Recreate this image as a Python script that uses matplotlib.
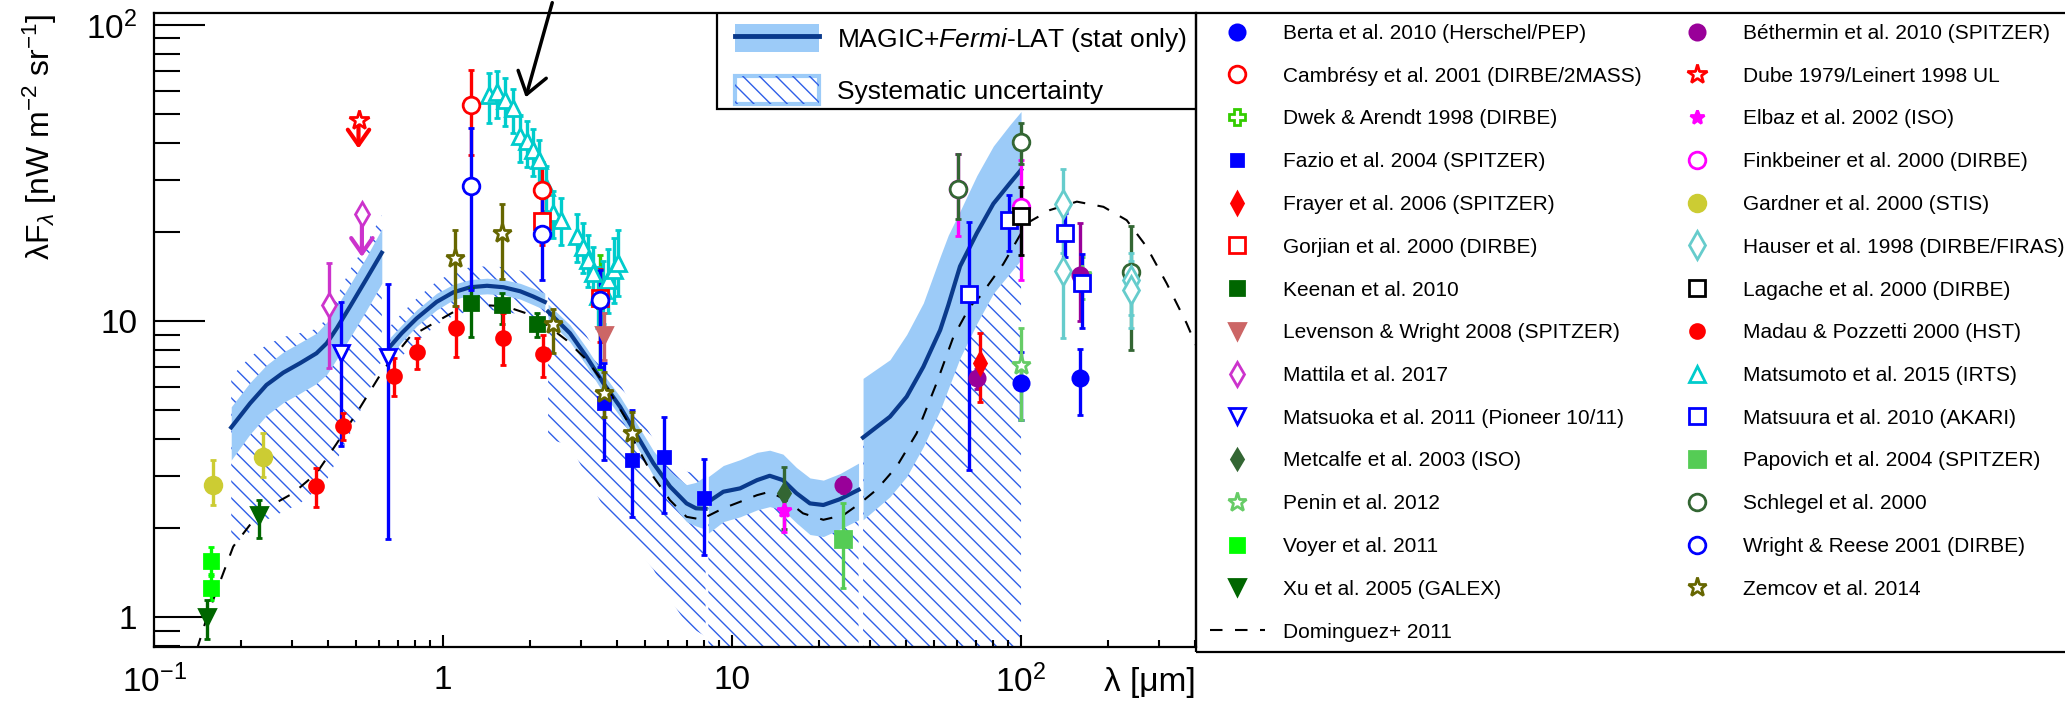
import numpy as np
import matplotlib
matplotlib.use("Agg")
import matplotlib.pyplot as plt
from matplotlib.lines import Line2D
from matplotlib.patches import Patch, Rectangle, FancyArrowPatch
from matplotlib.legend_handler import HandlerTuple
from matplotlib.ticker import FixedLocator, FixedFormatter, NullFormatter, LogLocator

plt.rcParams["font.family"] = ["Liberation Sans", "DejaVu Sans"]
plt.rcParams["mathtext.fontset"] = "custom"
plt.rcParams["mathtext.rm"] = "Liberation Sans"
plt.rcParams["mathtext.it"] = "Liberation Sans:italic"
plt.rcParams["mathtext.bf"] = "Liberation Sans:bold"
plt.rcParams["hatch.linewidth"] = 1.0

# ---- MAGIC+Fermi-LAT EBL reconstruction, 5 wavelength segments
magic_x = [
    [0.185, 0.215, 0.245, 0.28, 0.32, 0.365, 0.396, 0.429, 0.477, 0.544, 0.614],
    [0.656, 0.72, 0.81, 0.95, 1.086, 1.24, 1.42, 1.62, 1.85, 2.05, 2.25],
    [2.31, 2.75, 3.14, 3.59, 4.1, 4.56, 5.34, 6.1, 6.96, 7.5, 8.1],
    [8.28, 9.33, 10.66, 12.2, 13.5, 15.0, 16.7, 18.6, 20.7, 23.6, 27.4],
    [28.4, 35.2, 40.2, 45.9, 52.5, 56.0, 61.5, 70.3, 80.2, 91.5, 100.0],
]
magic_y = [
    [4.37, 5.27, 6.08, 6.69, 7.2, 7.78, 8.41, 9.45, 11.2, 13.9, 17.0],
    [8.2, 9.1, 10.2, 11.6, 12.5, 13.0, 13.15, 13.0, 12.6, 12.1, 11.6],
    [10.75, 9.09, 7.56, 6.16, 5.13, 4.3, 3.31, 2.76, 2.42, 2.33, 2.32],
    [2.45, 2.65, 2.72, 2.9, 3.0, 2.9, 2.62, 2.42, 2.39, 2.5, 2.69],
    [4.04, 4.75, 5.55, 7.0, 9.32, 11.3, 15.3, 19.8, 24.9, 29.2, 32.4],
]
stat_hi = [
    [5.13, 6.2, 7.1, 7.85, 8.45, 9.1, 9.9, 11.2, 13.3, 16.5, 20.5],
    [8.8, 9.7, 10.9, 12.4, 13.3, 13.8, 13.95, 13.8, 13.4, 12.9, 12.4],
    [11.4, 9.7, 8.1, 6.6, 5.55, 4.7, 3.65, 3.1, 2.8, 2.85, 3.0],
    [2.98, 3.25, 3.4, 3.6, 3.66, 3.55, 3.2, 2.95, 2.9, 3.05, 3.31],
    [6.4, 7.4, 9.0, 11.5, 16.5, 19.5, 23.5, 31.0, 39.0, 46.0, 51.0],
]
stat_lo = [
    [3.39, 4.15, 4.8, 5.3, 5.7, 6.15, 6.6, 7.45, 8.8, 10.9, 13.4],
    [7.6, 8.5, 9.6, 10.9, 11.8, 12.25, 12.35, 12.25, 11.85, 11.35, 10.9],
    [10.1, 8.5, 7.05, 5.7, 4.75, 3.95, 3.0, 2.45, 2.1, 2.03, 1.98],
    [1.92, 2.1, 2.18, 2.3, 2.36, 2.3, 2.08, 1.9, 1.87, 1.98, 2.13],
    [2.13, 2.55, 2.98, 3.76, 5.0, 5.9, 7.5, 9.8, 12.4, 14.5, 16.1],
]
sys_hi = [
    [6.48, 7.56, 8.3, 8.83, 9.1, 9.4, 10.2, 12.1, 14.9, 18.3, 22.8],
    [9.6, 10.6, 11.9, 13.6, 14.6, 15.2, 15.3, 15.2, 14.8, 14.2, 13.6],
    [12.5, 10.6, 8.9, 7.2, 6.1, 5.1, 4.0, 3.4, 3.1, 3.05, 3.1],
    [2.45, 2.65, 2.72, 2.9, 3.0, 2.9, 2.62, 2.42, 2.39, 2.5, 2.69],
    [4.04, 4.75, 5.55, 7.0, 9.32, 11.3, 15.3, 19.8, 24.9, 29.2, 32.4],
]
sys_lo = [
    [1.73, 1.94, 2.13, 2.27, 2.42, 2.69, 2.9, 3.39, 4.17, 5.55, 7.39],
    [6.9, 7.6, 8.5, 9.7, 10.4, 10.8, 10.9, 10.8, 10.5, 10.1, 9.7],
    [4.0, 3.8, 3.0, 2.35, 2.05, 1.75, 1.45, 1.15, 0.95, 0.9, 0.86],
    [0.7] * 11,
    [0.7] * 11,
]

# ---- Dominguez+ 2011 model
dom_x = [0.1406, 0.154, 0.188, 0.233, 0.303, 0.365, 0.429, 0.502, 0.621, 0.769, 0.976,
         1.175, 1.42, 1.65, 1.95, 2.28, 2.68, 3.14, 3.68, 4.32, 4.56, 5.34, 6.1, 6.96,
         7.94, 8.14, 9.33, 10.66, 12.2, 13.5, 15.4, 17.6, 20.7, 24.3, 27.7, 31.6, 37.1,
         43.5, 51.0, 58.3, 66.6, 72.1, 86.9, 104.8, 125.9, 156.0, 192.8, 232.0, 272.0,
         319.0, 374.0, 405.0]
dom_y = [0.774, 1.03, 1.73, 2.27, 2.62, 3.06, 3.86, 4.88, 6.83, 8.85, 10.1,
         11.2, 11.3, 11.2, 10.6, 9.7, 8.6, 7.39, 6.0, 4.63, 3.96, 2.98, 2.48, 2.18,
         2.13, 2.18, 2.33, 2.45, 2.58, 2.65, 2.48, 2.24, 2.13, 2.21, 2.42, 2.69, 3.22,
         4.17, 6.16, 8.83, 11.2, 12.1, 15.6, 21.4, 23.7, 25.3, 24.3, 21.9, 17.8,
         13.4, 9.82, 8.19]

# ---- measurements: x [um], y, lower and upper error-bar ends
berta_x, berta_y, berta_lo, berta_hi = [100, 160], [6.19, 6.4], [4.63, 4.82], [7.87, 8.02]
camb_x, camb_y, camb_lo, camb_hi = [1.25, 2.2], [53.7, 27.6], [36.4, 23.2], [70.5, 34.5]
dwek_x, dwek_y, dwek_lo, dwek_hi = [3.5], [11.8], [6.9], [16.7]
fazio_x, fazio_y = [3.6, 4.5, 5.8, 8.0], [5.27, 3.39, 3.48, 2.52]
fazio_lo, fazio_hi = [3.39, 2.18, 2.24, 1.62], [7.2, 5.0, 4.75, 3.41]
frayer_x, frayer_y, frayer_lo, frayer_hi = [72], [7.2], [5.34], [9.09]
gorj_x, gorj_y, gorj_lo, gorj_hi = [2.2, 3.5], [21.7, 12.0], [18.0, 8.5], [26.0, 15.0]
keenan_x, keenan_y = [1.25, 1.6, 2.12], [11.5, 11.3, 9.77]
keenan_lo, keenan_hi = [8.83, 9.8, 8.83], [12.9, 12.4, 10.6]
leven_x, leven_y, leven_lo, leven_hi = [3.6], [8.97], [7.39], [10.6]
mattila_x, mattila_y, mattila_lo, mattila_hi = [0.404], [11.3], [6.93], [15.7]
mattila_ul_x, mattila_ul_y, mattila_ul_end = [0.524], [22.9], [16.1]
matsuoka_x, matsuoka_y = [0.443, 0.644], [7.78, 7.56]
matsuoka_lo, matsuoka_hi = [3.78, 1.83], [11.6, 13.3]
metc_x, metc_y, metc_lo, metc_hi = [15.1], [2.62], [1.99], [3.22]
penin_x, penin_y, penin_lo, penin_hi = [100, 162], [7.1, 14.3], [4.63, 11.9], [9.45, 16.5]
voyer_x, voyer_y, voyer_lo, voyer_hi = [0.158, 0.158], [1.55, 1.25], [1.4, 1.14], [1.73, 1.38]
xu_x, xu_y, xu_lo, xu_hi = [0.153, 0.231], [1.0, 2.21], [0.84, 1.85], [1.14, 2.48]
beth_x, beth_y = [24.3, 70.6, 160], [2.79, 6.4, 14.3]
beth_lo, beth_hi = [2.62, 5.9, 10.0], [2.98, 6.9, 21.4]
dube_x, dube_y, dube_end = [0.51], [47.6], [37.4]
elbaz_x, elbaz_y, elbaz_lo, elbaz_hi = [15.1], [2.3], [1.94], [2.69]
fink_x, fink_y, fink_lo, fink_hi = [60.6, 100], [28.0, 24.3], [19.3, 13.8], [36.6, 34.9]
gard_x, gard_y, gard_lo, gard_hi = [0.16, 0.238], [2.79, 3.48], [2.39, 2.98], [3.39, 4.19]
hauser_x, hauser_y = [140, 140, 240, 240], [24.9, 14.7, 13.8, 12.7]
hauser_lo, hauser_hi = [17.0, 8.74, 10.5, 9.5], [32.7, 19.0, 17.0, 16.0]
lag_x, lag_y, lag_lo, lag_hi = [100], [22.6], [16.7], [28.4]
madau_x = [0.363, 0.452, 0.678, 0.815, 1.11, 1.61, 2.22]
madau_y = [2.78, 4.42, 6.53, 7.84, 9.45, 8.78, 7.72]
madau_lo = [2.36, 3.96, 5.6, 6.88, 7.56, 7.1, 6.47]
madau_hi = [3.19, 4.89, 7.5, 8.75, 11.2, 10.6, 8.97]
matsumoto_x = [1.44, 1.54, 1.64, 1.74, 1.84, 1.95, 2.05, 2.15, 2.27, 2.41,
               2.57, 2.9, 3.06, 3.18, 3.31, 3.45, 3.59, 3.73, 3.89, 4.04]
matsumoto_y = [58.0, 59.5, 55.8, 52.3, 42.0, 40.4, 37.8, 35.0, 28.4, 23.1,
               21.9, 19.3, 17.8, 16.1, 14.5, 12.1, 12.7, 13.8, 14.9, 15.7]
matsumoto_lo = [46.5, 48.5, 45.5, 43.0, 34.5, 33.0, 31.0, 29.0, 23.5, 19.0,
                18.0, 15.8, 14.5, 13.0, 11.5, 9.5, 9.8, 10.6, 11.5, 12.1]
matsumoto_hi = [68.7, 70.0, 66.0, 61.0, 49.5, 47.5, 44.5, 41.0, 33.5, 27.5,
                26.0, 23.0, 21.5, 19.5, 17.8, 15.2, 16.0, 17.5, 19.0, 20.3]
matsuura_x, matsuura_y = [65.8, 91.2, 142, 162], [12.3, 21.9, 19.8, 13.4]
matsuura_lo, matsuura_hi = [3.14, 17.3, 16.5, 9.45], [21.6, 26.6, 23.1, 16.9]
papo_x, papo_y, papo_lo, papo_hi = [24.3], [1.83], [1.25], [2.42]
schl_x, schl_y = [60.6, 100, 240], [28.0, 40.1, 14.6]
schl_lo, schl_hi = [22.1, 34.0, 7.97], [36.6, 46.5, 20.9]
wright_x, wright_y = [1.25, 2.2, 3.5], [28.6, 19.6, 11.8]
wright_lo, wright_hi = [12.7, 13.8, 7.0], [44.8, 27.6, 14.9]
zem_x, zem_y = [1.1, 1.6, 2.4, 3.6, 4.5], [16.3, 19.9, 9.77, 5.7, 4.17]
zem_lo, zem_hi = [11.2, 13.9, 7.78, 4.75, 3.39], [20.3, 24.9, 11.0, 6.73, 4.94]

BAND = "#9ccbf8"
CURVE = "#0a3a8c"
HATCH = "#2f5fe8"

W, H = 2065, 706
fig = plt.figure(figsize=(W / 100, H / 100), dpi=100)
ax = fig.add_axes([154 / W, 1 - 647 / H, 1042 / W, 633.6 / H])
ax.set_xscale("log")
ax.set_yscale("log")

for i in range(len(magic_x)):
    ax.fill_between(magic_x[i], sys_lo[i], sys_hi[i], facecolor="none", edgecolor=HATCH,
                    hatch="\\\\", linewidth=0, zorder=1)
    ax.fill_between(magic_x[i], stat_lo[i], stat_hi[i], color=BAND, linewidth=0, zorder=2)
    ax.plot(magic_x[i], magic_y[i], color=CURVE, lw=3, zorder=3)

ax.plot(dom_x, dom_y, color="k", lw=1.5, ls=(0, (6, 6)), zorder=4)


def draw(x, y, lo, hi, marker, color, open_=False, ms=11, z=5):
    y = np.asarray(y, float)
    yerr = [y - np.asarray(lo), np.asarray(hi) - y]
    ax.errorbar(x, y, yerr=yerr, fmt=marker, color=color, mec=color,
                mfc="white" if open_ else color, mew=2, ms=ms, elinewidth=2.4,
                capsize=2.5, capthick=2.4, zorder=z)


def handle(marker, color, open_=False, ms=11):
    return Line2D([], [], ls="none", marker=marker, color=color, mec=color,
                  mfc="white" if open_ else color, mew=2, ms=ms)


# (label, x, y, lo, hi, marker, color, open, size)
col1 = [
    ("Berta et al. 2010 (Herschel/PEP)", berta_x, berta_y, berta_lo, berta_hi, "o", "#0000ff", False, 11),
    ("Cambrésy et al. 2001 (DIRBE/2MASS)", camb_x, camb_y, camb_lo, camb_hi, "o", "#ff0000", True, 12),
    ("Dwek & Arendt 1998 (DIRBE)", dwek_x, dwek_y, dwek_lo, dwek_hi, "P", "#33cc00", True, 12),
    ("Fazio et al. 2004 (SPITZER)", fazio_x, fazio_y, fazio_lo, fazio_hi, "s", "#0000ff", False, 9),
    ("Frayer et al. 2006 (SPITZER)", frayer_x, frayer_y, frayer_lo, frayer_hi, "d", "#ff0000", False, 11),
    ("Gorjian et al. 2000 (DIRBE)", gorj_x, gorj_y, gorj_lo, gorj_hi, "s", "#ff0000", True, 11),
    ("Keenan et al. 2010", keenan_x, keenan_y, keenan_lo, keenan_hi, "s", "#006600", False, 10),
    ("Levenson & Wright 2008 (SPITZER)", leven_x, leven_y, leven_lo, leven_hi, "v", "#cc6666", False, 11),
    ("Mattila et al. 2017", mattila_x, mattila_y, mattila_lo, mattila_hi, "d", "#cc33cc", True, 12),
    ("Matsuoka et al. 2011 (Pioneer 10/11)", matsuoka_x, matsuoka_y, matsuoka_lo, matsuoka_hi, "v", "#0000ff", True, 12),
    ("Metcalfe et al. 2003 (ISO)", metc_x, metc_y, metc_lo, metc_hi, "d", "#336633", False, 10),
    ("Penin et al. 2012", penin_x, penin_y, penin_lo, penin_hi, "*", "#66cc66", True, 14),
    ("Voyer et al. 2011", voyer_x, voyer_y, voyer_lo, voyer_hi, "s", "#00ff00", False, 10),
    ("Xu et al. 2005 (GALEX)", xu_x, xu_y, xu_lo, xu_hi, "v", "#006600", False, 11),
]
col2 = [
    ("Béthermin et al. 2010 (SPITZER)", beth_x, beth_y, beth_lo, beth_hi, "o", "#990099", False, 11),
    ("Dube 1979/Leinert 1998 UL", None, None, None, None, "*", "#ff0000", True, 15),
    ("Elbaz et al. 2002 (ISO)", elbaz_x, elbaz_y, elbaz_lo, elbaz_hi, "*", "#ff00ff", False, 10),
    ("Finkbeiner et al. 2000 (DIRBE)", fink_x, fink_y, fink_lo, fink_hi, "o", "#ff00ff", True, 12),
    ("Gardner et al. 2000 (STIS)", gard_x, gard_y, gard_lo, gard_hi, "o", "#cccc33", False, 12),
    ("Hauser et al. 1998 (DIRBE/FIRAS)", hauser_x, hauser_y, hauser_lo, hauser_hi, "d", "#66cccc", True, 14),
    ("Lagache et al. 2000 (DIRBE)", lag_x, lag_y, lag_lo, lag_hi, "s", "#000000", True, 11),
    ("Madau & Pozzetti 2000 (HST)", madau_x, madau_y, madau_lo, madau_hi, "o", "#ff0000", False, 10),
    ("Matsumoto et al. 2015 (IRTS)", matsumoto_x, matsumoto_y, matsumoto_lo, matsumoto_hi, "^", "#00cccc", True, 12),
    ("Matsuura et al. 2010 (AKARI)", matsuura_x, matsuura_y, matsuura_lo, matsuura_hi, "s", "#0000ff", True, 12),
    ("Papovich et al. 2004 (SPITZER)", papo_x, papo_y, papo_lo, papo_hi, "s", "#55cc55", False, 11),
    ("Schlegel et al. 2000", schl_x, schl_y, schl_lo, schl_hi, "o", "#336633", True, 12),
    ("Wright & Reese 2001 (DIRBE)", wright_x, wright_y, wright_lo, wright_hi, "o", "#0000ff", True, 12),
    ("Zemcov et al. 2014", zem_x, zem_y, zem_lo, zem_hi, "*", "#666600", True, 14),
]

draw_order = ["Dwek", "Finkbeiner", "Schlegel", "Matsumoto", "Hauser", "Berta", "Penin",
              "Béthermin", "Matsuura", "Lagache"]
entries = col1 + col2
ordered = [e for e in entries if not any(e[0].startswith(k) for k in draw_order)]
ordered = [e for k in draw_order for e in entries if e[0].startswith(k)] + ordered
for lab, x, y, lo, hi, m, c, op, ms in ordered:
    if x is not None:
        draw(x, y, lo, hi, m, c, op, ms)

# upper limits
for x, y0, y1 in zip(dube_x, dube_y, dube_end):
    ax.annotate("", xy=(x, y1), xytext=(x, y0),
                arrowprops=dict(arrowstyle="->,head_length=0.5,head_width=0.35",
                                color="#ff0000", lw=3, mutation_scale=22), zorder=6)
    ax.plot([x], [y0], marker="*", ms=15, color="#ff0000", mfc="white", mew=2, zorder=7)
for x, y0, y1 in zip(mattila_ul_x, mattila_ul_y, mattila_ul_end):
    ax.annotate("", xy=(x, y1), xytext=(x, y0),
                arrowprops=dict(arrowstyle="->,head_length=0.5,head_width=0.35",
                                color="#cc33cc", lw=3, mutation_scale=22), zorder=6)
    ax.plot([x], [y0], marker="d", ms=12, color="#cc33cc", mfc="white", mew=2, zorder=7)

ax.set_xlim(0.1, 403)
ax.set_ylim(0.792, 109.4)
ax.xaxis.set_major_locator(FixedLocator([0.1, 1, 10, 100]))
ax.xaxis.set_major_formatter(FixedFormatter([r"$\mathregular{10^{-1}}$", "1", "10",
                                             r"$\mathregular{10^{2}}$"]))
ax.xaxis.set_minor_locator(LogLocator(base=10, subs=np.arange(2, 10)))
ax.xaxis.set_minor_formatter(NullFormatter())
ax.yaxis.set_major_locator(FixedLocator([1, 10, 100]))
ax.yaxis.set_major_formatter(FixedFormatter(["1", "10", r"$\mathregular{10^{2}}$"]))
ax.yaxis.set_minor_locator(LogLocator(base=10, subs=np.arange(2, 10)))
ax.yaxis.set_minor_formatter(NullFormatter())
ax.tick_params(which="both", direction="in", labelsize=24, width=1.5, top=False, right=False)
ax.tick_params(axis="y", which="major", length=37, pad=12)
ax.tick_params(axis="y", which="minor", length=19)
ax.tick_params(axis="x", which="major", length=9, pad=13)
ax.tick_params(axis="x", which="minor", length=5)
for s in ax.spines.values():
    s.set_linewidth(1.6)

ax.text(1.0, -0.056, "λ [μm]", transform=ax.transAxes, ha="right", va="center", fontsize=24)
fig.text(40 / W, 1 - 13.4 / H, r"λF$_{λ}$ [nW m$^{-2}$ sr$^{-1}$]", rotation=90,
         ha="center", va="top", fontsize=23)

# MAGIC legend box
ax.add_patch(Rectangle((0.5403, 0.849), 0.4597, 0.151, transform=ax.transAxes,
                       facecolor="white", edgecolor="k", lw=1.6, zorder=10))
h_stat = (Patch(facecolor=BAND, edgecolor="none"), Line2D([], [], color=CURVE, lw=3.5))
h_sys = (Patch(facecolor="white", edgecolor=BAND, lw=3),
         Patch(facecolor="none", edgecolor=HATCH, hatch="\\\\", lw=0))
leg = ax.legend([h_stat, h_sys],
                ["MAGIC+$\\mathit{Fermi}$-LAT (stat only)", "Systematic uncertainty"],
                handler_map={tuple: HandlerTuple(ndivide=1, pad=0)},
                loc="upper left", bbox_to_anchor=(0.5576, 0.983), bbox_transform=ax.transAxes,
                frameon=False, fontsize=19, handlelength=3.18, handleheight=1.25,
                handletextpad=0.68, labelspacing=0.83, borderpad=0, borderaxespad=0)
leg.set_zorder(11)

# right-hand legend with the data sets
fig.add_artist(Rectangle((1196 / W, 1 - 652 / H), 0.45, (652 - 13.4) / H,
                         transform=fig.transFigure, fill=False, edgecolor="k", lw=1.6))
h1 = [handle(e[5], e[6], e[7], e[8]) for e in col1]
l1 = [e[0] for e in col1]
h1.append(Line2D([], [], color="k", lw=1.5, ls=(0, (6, 6))))
l1.append("Dominguez+ 2011")
h2 = [handle(e[5], e[6], e[7], e[8]) for e in col2]
l2 = [e[0] for e in col2]
common = dict(loc="upper left", bbox_transform=fig.transFigure, frameon=False, fontsize=15,
              handlelength=2.65, handletextpad=0.9, labelspacing=1.14, borderpad=0,
              borderaxespad=0)
fig.legend(h1, l1, bbox_to_anchor=(1209.5 / W, 1 - 24 / H), **common)
fig.legend(h2, l2, bbox_to_anchor=(1669.5 / W, 1 - 24 / H), **common)

fig.add_artist(FancyArrowPatch((553 / W, 1.0), (525 / W, 1 - 100 / H), transform=fig.transFigure,
                               arrowstyle="->,head_length=0.5,head_width=0.35",
                               mutation_scale=30, lw=2.5, color="k"))

fig.savefig("out.png", dpi=100)
